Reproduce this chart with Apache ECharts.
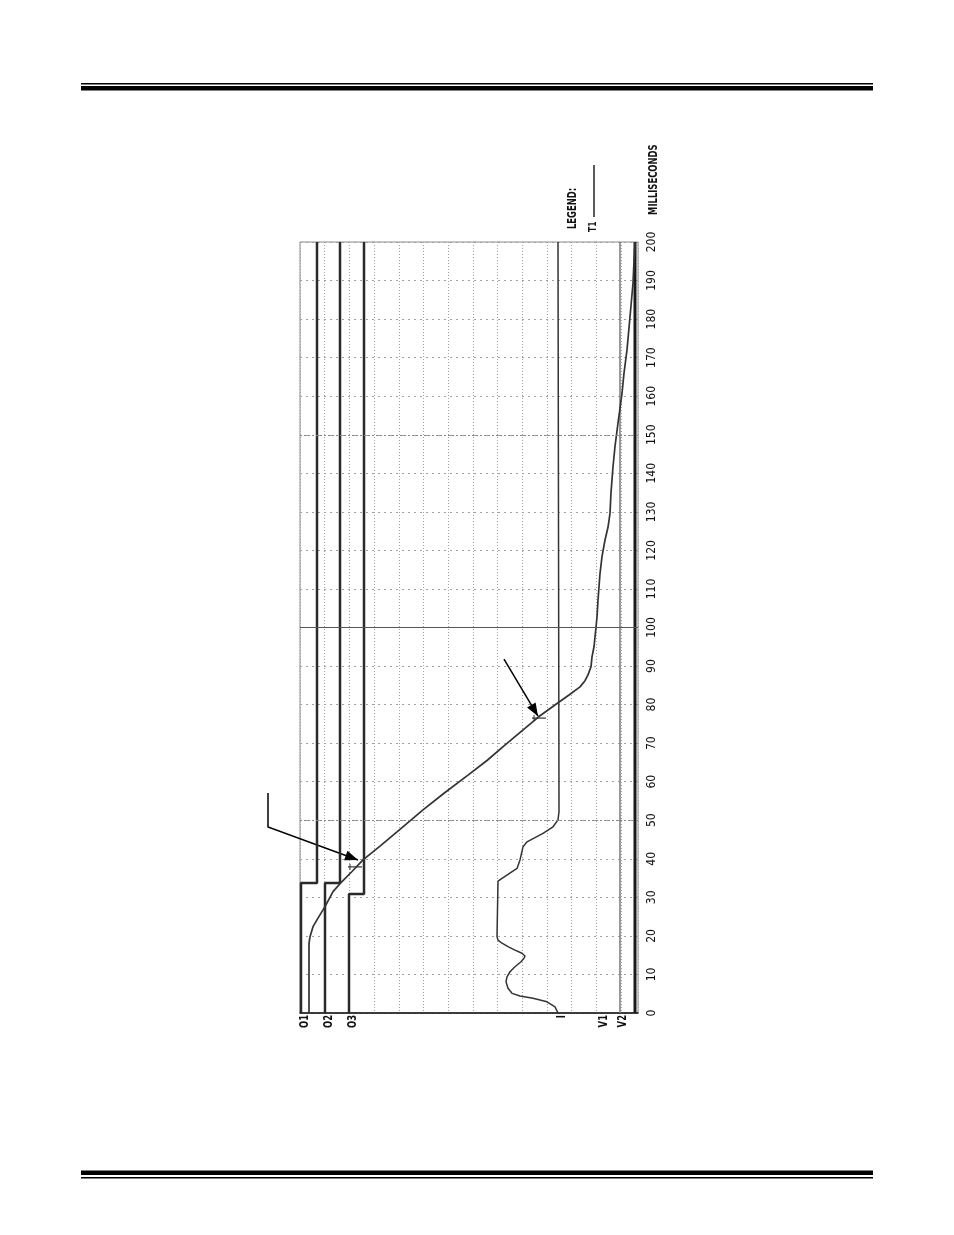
<!DOCTYPE html>
<html>
<head>
<meta charset="utf-8">
<script src="https://cdn.jsdelivr.net/npm/echarts@6/dist/echarts.min.js"></script>
<style>
html,body{margin:0;padding:0;background:#fff;}
#c{width:954px;height:1235px;}
</style>
</head>
<body>
<div id="c"></div>
<script>
// ---- Data (time in ms, position in chart units) ----
const t1Time = [0, 18, 19.8, 22.4, 24.6, 27.6, 31.5, 34.1, 36.7, 39.7, 43.3, 47, 52.7, 57, 61.7, 65.5, 69.3, 73, 76.9, 80.3, 82.5, 84.6, 86.2, 87.7, 89.8, 92.4, 95, 97.6, 100, 102.8, 107, 110.6, 114, 118.4, 122.7, 126, 129.6, 135, 141.7, 147, 153, 160.7, 166, 172, 180.6, 189.3, 195, 200];
const t1Pos  = [9, 9, 10, 13, 18, 25, 33, 42, 52, 63, 80, 97, 123, 144, 168, 187, 204, 221, 239, 257, 269, 280, 285, 288, 291, 292, 294, 295, 296, 297, 298, 299, 300, 302, 305, 308, 310, 311, 313, 315, 318, 322, 324, 327, 330, 333, 334, 335];

const iTime = [0, 1.6, 2.9, 3.8, 4.4, 5.1, 6.4, 8.1, 9.4, 10.7, 12.0, 13.3, 14.2, 14.8, 15.5, 16.3, 17.2, 18.1, 18.9, 19.8, 34.2, 34.9, 37.5, 39.7, 43.1, 44.4, 46.6, 48.3, 50.1, 52.2, 52.7, 200];
const iPos  = [258, 255, 247, 233, 220, 212, 208, 206, 207, 210, 215, 221, 224, 225, 222, 215, 208, 202, 198, 197, 198, 202, 217, 220, 223, 227, 243, 253, 258, 259, 258, 258];

const o1Time = [0, 33.7, 33.7, 200];
const o1Pos  = [1, 1, 17, 17];
const o2Time = [0, 33.7, 33.7, 200];
const o2Pos  = [25, 25, 40, 40];
const o3Time = [0, 30.9, 30.9, 200];
const o3Pos  = [49, 49, 64, 64];
const v1Time = [0, 200];
const v1Pos  = [320, 320];
const v2Time = [0, 200];
const v2Pos  = [335, 335];

const channelNames = ['O1', 'O2', 'O3', 'I', 'V1', 'V2'];
const channelBase  = [1, 25, 49, 258, 300, 319];

// annotation arrows point at these (position, time) spots of the T1 curve
const arrowTipPos  = [58, 238];
const arrowTipTime = [39.7, 77];
const cursorPos  = [55, 239];
const cursorTime = [37.9, 76.5];

const FONT = '"Liberation Sans Narrow","DejaVu Sans Condensed","Liberation Sans",sans-serif';

function pairs(pos, time) { return pos.map(function (v, i) { return [v, time[i]]; }); }

function lineSeries(name, pos, time, width, color, extra) {
  const s = {
    type: 'line', name: name, data: pairs(pos, time),
    symbol: 'none', showSymbol: false, clip: false, z: 3,
    lineStyle: { width: width, color: color },
    animation: false
  };
  return Object.assign(s, extra || {});
}

const chart = echarts.init(document.getElementById('c'));

const option = {
  animation: false,
  backgroundColor: '#ffffff',
  grid: { left: 300, top: 242, width: 338, height: 771, show: true, borderColor: '#8a8a8a', borderWidth: 1 },
  xAxis: {
    type: 'value', min: 0, max: 338, interval: 24.7,
    axisLine: { show: true, onZero: false, lineStyle: { color: '#111', width: 1.5 } },
    axisTick: { show: false }, axisLabel: { show: false },
    splitLine: { show: true, lineStyle: { color: '#a0a0a0', type: [1, 2], width: 1 } }
  },
  yAxis: {
    type: 'value', min: 0, max: 200, interval: 10, position: 'right',
    axisLine: { show: false }, axisTick: { show: false },
    axisLabel: { rotate: 90, margin: 8, fontFamily: FONT, fontSize: 12, color: '#111' },
    splitLine: { show: true, lineStyle: { color: '#a0a0a0', type: [2, 4], width: 1 } }
  },
  series: [
    lineSeries('V1', v1Pos, v1Time, 1.5, '#777'),
    lineSeries('V2', v2Pos, v2Time, 3, '#1a1a1a'),
    lineSeries('O1', o1Pos, o1Time, 2.5, '#2a2a2a', {
      markLine: {
        silent: true, symbol: 'none', label: { show: false }, animation: false,
        data: [
          { yAxis: 100, lineStyle: { color: '#555', type: 'solid', width: 1.2 } },
          { yAxis: 50, lineStyle: { color: '#888', type: [2, 2], width: 1 } },
          { yAxis: 150, lineStyle: { color: '#888', type: [2, 2], width: 1 } }
        ]
      }
    }),
    lineSeries('O2', o2Pos, o2Time, 2.5, '#2a2a2a'),
    lineSeries('O3', o3Pos, o3Time, 2.5, '#2a2a2a'),
    lineSeries('I', iPos, iTime, 1.5, '#333'),
    lineSeries('T1', t1Pos, t1Time, 1.7, '#333')
  ]
};

chart.setOption(option);

// ---- annotations positioned through the chart's own coordinate system ----
const g = [];
function toPx(v, t) { return chart.convertToPixel({ gridIndex: 0 }, [v, t]); }

// page rules (header / footer)
g.push({ type: 'rect', shape: { x: 81, y: 83, width: 792, height: 1.5 }, style: { fill: '#000' } });
g.push({ type: 'rect', shape: { x: 81, y: 86, width: 792, height: 4.5 }, style: { fill: '#000' } });
g.push({ type: 'rect', shape: { x: 81, y: 1170.5, width: 792, height: 4.5 }, style: { fill: '#000' } });
g.push({ type: 'rect', shape: { x: 81, y: 1177, width: 792, height: 1.5 }, style: { fill: '#000' } });

function arrow(points) {
  g.push({ type: 'polyline', shape: { points: points }, style: { stroke: '#000', lineWidth: 1.5, fill: null } });
  const tip = points[points.length - 1], prev = points[points.length - 2];
  const dx = tip[0] - prev[0], dy = tip[1] - prev[1];
  const L = Math.sqrt(dx * dx + dy * dy), ux = dx / L, uy = dy / L;
  const len = 13, w = 5;
  const bx = tip[0] - ux * len, by = tip[1] - uy * len;
  g.push({ type: 'polygon', shape: { points: [tip, [bx - uy * w, by + ux * w], [bx + uy * w, by - ux * w]] }, style: { fill: '#000' } });
}
const tip1 = toPx(arrowTipPos[0], arrowTipTime[0]);
arrow([[tip1[0] - 90, tip1[1] - 67], [tip1[0] - 90, tip1[1] - 33], tip1]);
const tip2 = toPx(arrowTipPos[1], arrowTipTime[1]);
arrow([[tip2[0] - 34, tip2[1] - 57], tip2]);

cursorPos.forEach(function (v, i) {
  const p = toPx(v, cursorTime[i]);
  g.push({ type: 'line', shape: { x1: p[0] - 7, y1: p[1], x2: p[0] + 7, y2: p[1] }, style: { stroke: '#333', lineWidth: 1.2 } });
  g.push({ type: 'line', shape: { x1: p[0] - 5, y1: p[1] - 3, x2: p[0] - 5, y2: p[1] + 3 }, style: { stroke: '#333', lineWidth: 1 } });
});

function rotText(x, y, text, align, size) {
  g.push({ type: 'text', x: x, y: y, rotation: Math.PI / 2, scaleX: 0.78,
    style: { text: text, fontFamily: FONT, fontSize: size, fontWeight: 'bold', fill: '#111', align: align, verticalAlign: 'middle' } });
}

// channel labels under the bottom axis (rotated like the plot)
channelNames.forEach(function (name, i) {
  const p = toPx(channelBase[i] + 4, 0);
  rotText(p[0], p[1] + 2, name, 'right', 12);
});

// axis title and legend
const topRight = toPx(338, 200);
rotText(topRight[0] + 16, topRight[1] - 27, 'MILLISECONDS', 'left', 12);
rotText(topRight[0] - 65, topRight[1] - 13, 'LEGEND:', 'left', 12);
rotText(topRight[0] - 45, topRight[1] - 10, 'T1', 'left', 11);
g.push({ type: 'line', shape: { x1: topRight[0] - 44, y1: topRight[1] - 25, x2: topRight[0] - 44, y2: topRight[1] - 77 },
  style: { stroke: '#222', lineWidth: 1.5 } });

chart.setOption({ graphic: g });
</script>
</body>
</html>
